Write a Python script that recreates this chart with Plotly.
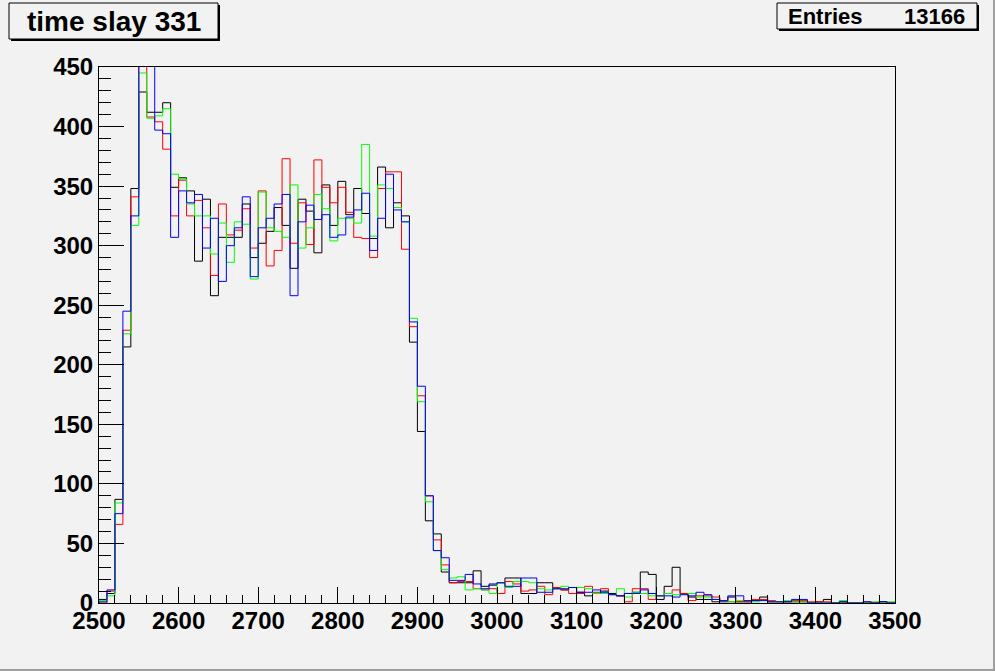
import plotly.graph_objects as go

# ---------------- data ----------------
x_min = 2500
bin_width = 10
n_bins = 100

black_counts = [3, 8, 87, 215, 348, 429, 412, 412, 420, 349,
                357, 346, 287, 339, 258, 307, 307, 307, 335, 290,
                302, 312, 332, 317, 281, 339, 329, 294, 351, 317,
                354, 326, 348, 327, 306, 366, 315, 336, 325, 219,
                144, 69, 58, 26, 17, 17, 17, 27, 14, 15,
                17, 21, 21, 8, 8, 17, 17, 12, 11, 13,
                9, 6, 8, 10, 8, 6, 8, 9, 26, 24,
                3, 14, 30, 8, 5, 3, 3, 1, 1, 5,
                1, 1, 2, 5, 1, 1, 1, 1, 1, 0,
                1, 3, 0, 1, 0, 0, 0, 0, 1, 0]

red_counts = [0, 10, 66, 229, 341, 460, 408, 404, 381, 325,
              355, 325, 338, 315, 275, 335, 309, 313, 331, 298,
              346, 283, 296, 373, 302, 336, 301, 372, 349, 336,
              349, 328, 307, 306, 290, 348, 362, 362, 297, 232,
              174, 90, 53, 32, 17, 18, 18, 12, 11, 12,
              8, 18, 16, 10, 11, 14, 7, 13, 11, 8,
              8, 14, 9, 12, 7, 6, 1, 12, 12, 3,
              6, 8, 11, 8, 2, 6, 6, 5, 2, 1,
              1, 1, 3, 3, 2, 1, 1, 2, 2, 1,
              1, 1, 0, 0, 0, 0, 1, 0, 0, 0]

green_counts = [2, 6, 84, 226, 317, 445, 407, 409, 415, 360,
                356, 335, 325, 325, 293, 319, 286, 320, 318, 272,
                345, 315, 312, 307, 351, 298, 315, 343, 331, 304,
                323, 323, 319, 385, 308, 351, 348, 332, 320, 239,
                169, 85, 44, 28, 21, 22, 11, 12, 11, 8,
                17, 13, 18, 18, 17, 12, 11, 12, 14, 13,
                13, 12, 8, 8, 7, 12, 5, 9, 8, 6,
                6, 8, 7, 7, 8, 5, 5, 3, 2, 1,
                2, 2, 1, 2, 1, 1, 2, 1, 1, 0,
                0, 0, 0, 2, 0, 0, 0, 1, 0, 1]

blue_counts = [1, 11, 75, 245, 325, 470, 455, 397, 394, 307,
               346, 336, 343, 298, 323, 270, 300, 315, 341, 274,
               315, 323, 335, 343, 258, 320, 334, 322, 326, 307,
               309, 324, 330, 344, 296, 323, 360, 330, 320, 236,
               182, 90, 44, 38, 19, 19, 24, 16, 12, 16,
               17, 14, 14, 21, 21, 9, 9, 12, 12, 13,
               9, 9, 11, 9, 7, 6, 8, 8, 11, 8,
               6, 6, 5, 7, 6, 9, 7, 3, 2, 6,
               6, 2, 2, 2, 1, 1, 1, 3, 3, 0,
               0, 0, 0, 1, 0, 0, 1, 0, 1, 0]

series = [("black", "#000000", black_counts),
          ("red", "#ff0000", red_counts),
          ("green", "#00ff00", green_counts),
          ("blue", "#0000ff", blue_counts)]

x_ticks = [2500, 2600, 2700, 2800, 2900, 3000, 3100, 3200, 3300, 3400, 3500]
y_ticks = [0, 50, 100, 150, 200, 250, 300, 350, 400, 450]

title_text = "time slay 331"
entries_label = "Entries"
entries_value = "13166"

# ---------------- layout geometry (pixels) ----------------
W, H = 995, 671
PL, PR, PT, PB = 99, 895, 67, 603
BG = "#f2f2f2"


def px(xp):
    return (xp - PL) / (PR - PL)


def py(yp):
    return (PB - yp) / (PB - PT)


fig = go.Figure()

edges = [x_min + bin_width * i for i in range(n_bins + 1)]
for name, color, counts in series:
    xs = [edges[0]] + edges
    ys = [0] + list(counts) + [0]
    fig.add_trace(go.Scatter(x=xs, y=ys, mode="lines", line_shape="hv",
                             line=dict(color=color, width=1), name=name,
                             showlegend=False, hoverinfo="skip"))

tickfont = dict(family="Liberation Sans, Arial, sans-serif", size=24,
                color="black", weight="bold")

fig.update_layout(
    width=W, height=H,
    margin=dict(l=PL, r=W - PR, t=PT, b=H - PB, pad=0),
    paper_bgcolor=BG, plot_bgcolor=BG,
    xaxis=dict(range=[2500, 3500], tickvals=x_ticks,
               ticktext=[str(v) for v in x_ticks],
               showgrid=False, zeroline=False,
               showline=True, linecolor="black", linewidth=1, mirror=True,
               ticks="inside", ticklen=16, tickwidth=1, tickcolor="black",
               minor=dict(ticks="inside", ticklen=8, dtick=20,
                          tickcolor="black", tickwidth=1, showgrid=False),
               ticklabelstandoff=-4,
               tickfont=tickfont),
    yaxis=dict(range=[0, 450], tickvals=y_ticks,
               ticktext=[str(v) for v in y_ticks],
               showgrid=False, zeroline=False,
               showline=True, linecolor="black", linewidth=1, mirror=True,
               ticks="inside", ticklen=25, tickwidth=1, tickcolor="black",
               minor=dict(ticks="inside", ticklen=12, dtick=10,
                          tickcolor="black", tickwidth=1, showgrid=False),
               tickfont=tickfont),
)

shapes = []
# canvas bevel (right and bottom)
shapes.append(dict(type="rect", xref="paper", yref="paper",
                   x0=px(993), x1=px(995), y0=py(671), y1=py(0),
                   fillcolor="#a0a0a0", line=dict(width=0), layer="above"))
shapes.append(dict(type="rect", xref="paper", yref="paper",
                   x0=px(0), x1=px(995), y0=py(671), y1=py(669),
                   fillcolor="#a0a0a0", line=dict(width=0), layer="above"))
# title box shadow + box
shapes.append(dict(type="rect", xref="paper", yref="paper",
                   x0=px(11), x1=px(220), y0=py(41), y1=py(5),
                   fillcolor="black", line=dict(width=0), layer="above"))
shapes.append(dict(type="rect", xref="paper", yref="paper",
                   x0=px(9), x1=px(218), y0=py(39), y1=py(3),
                   fillcolor=BG, line=dict(color="black", width=1), layer="above"))
# stats box shadow + box
shapes.append(dict(type="rect", xref="paper", yref="paper",
                   x0=px(779), x1=px(979), y0=py(31), y1=py(5),
                   fillcolor="black", line=dict(width=0), layer="above"))
shapes.append(dict(type="rect", xref="paper", yref="paper",
                   x0=px(777), x1=px(977), y0=py(29), y1=py(3),
                   fillcolor=BG, line=dict(color="black", width=1), layer="above"))
fig.update_layout(shapes=shapes)

fig.add_annotation(xref="paper", yref="paper", x=px(113.5), y=py(21),
                   text=title_text, showarrow=False, xanchor="center", yanchor="middle",
                   font=dict(family="Liberation Sans, Arial, sans-serif", size=28,
                             color="black", weight="bold"))
fig.add_annotation(xref="paper", yref="paper", x=px(786), y=py(17),
                   text=entries_label, showarrow=False, xanchor="left", yanchor="middle",
                   font=dict(family="Liberation Sans, Arial, sans-serif", size=22,
                             color="black", weight="bold"))
fig.add_annotation(xref="paper", yref="paper", x=px(967), y=py(17),
                   text=entries_value, showarrow=False, xanchor="right", yanchor="middle",
                   font=dict(family="Liberation Sans, Arial, sans-serif", size=22,
                             color="black", weight="bold"))

fig.write_html("out.html",
               config={"displayModeBar": False, "staticPlot": True},
               post_script="document.body.style.margin='0px';document.body.style.padding='0px';")
